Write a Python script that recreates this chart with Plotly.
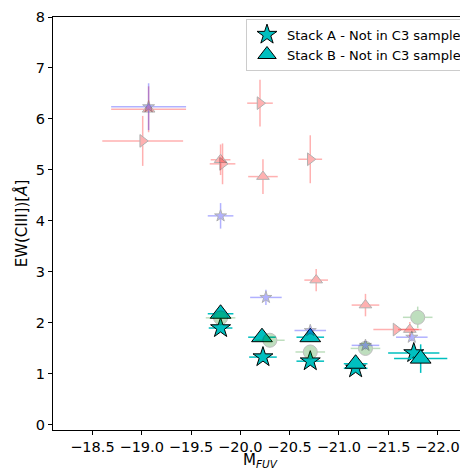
import plotly.graph_objects as go

# Stack A - Not in C3 sample (teal stars)
a_x = [-19.80, -20.23, -20.71, -21.17, -21.76]
a_y = [1.90, 1.33, 1.25, 1.11, 1.41]
a_xerr = [0.12, 0.14, 0.14, 0.12, 0.26]
a_yerr = [0.06, 0.06, 0.06, 0.06, 0.12]

# Stack B - Not in C3 sample (teal triangles)
b_x = [-19.80, -20.22, -20.71, -21.17, -21.83]
b_y = [2.18, 1.72, 1.72, 1.20, 1.30]
b_xerr = [0.13, 0.14, 0.14, 0.12, 0.27]
b_yerr = [0.08, 0.08, 0.08, 0.08, 0.28]

# faint comparison samples
g_x = [-19.80, -20.30, -20.71, -21.27, -21.80]
g_y = [2.10, 1.66, 1.43, 1.50, 2.11]
g_xerr = [0.15, 0.15, 0.15, 0.15, 0.15]
g_yerr = [0.08, 0.08, 0.08, 0.08, 0.21]

s_x = [-19.07, -19.80, -20.26, -20.71, -21.27, -21.74]
s_y = [6.24, 4.10, 2.50, 1.85, 1.56, 1.72]
s_xerr = [0.38, 0.13, 0.16, 0.16, 0.14, 0.16]
s_yerr = [0.46, 0.25, 0.15, 0.08, 0.08, 0.08]

t_x = [-19.07, -19.80, -20.23, -20.77, -21.27, -21.72]
t_y = [6.19, 5.20, 4.87, 2.84, 2.35, 1.87]
t_xerr = [0.38, 0.10, 0.15, 0.12, 0.14, 0.12]
t_yerr = [0.45, 0.30, 0.34, 0.22, 0.22, 0.15]

r_x = [-19.01, -19.82, -20.20, -20.71, -21.58]
r_y = [5.57, 5.12, 6.31, 5.21, 1.87]
r_xerr = [0.41, 0.13, 0.13, 0.12, 0.23]
r_yerr = [0.49, 0.40, 0.46, 0.47, 0.08]

x_ticks = [-18.5, -19.0, -19.5, -20.0, -20.5, -21.0, -21.5, -22.0]
y_ticks = [0, 1, 2, 3, 4, 5, 6, 7, 8]

TEAL = "#00BFBF"
FONT = "DejaVu Sans"

fig = go.Figure()


def err(arr, color, th=1.5):
    return dict(type="data", array=arr, color=color, thickness=th, width=0, visible=True)


fig.add_trace(go.Scatter(
    x=a_x, y=a_y, mode="markers", name="Stack A - Not in C3 sample",
    marker=dict(symbol="star", size=15, color=TEAL, line=dict(color="black", width=1)),
    error_x=err(a_xerr, TEAL), error_y=err(a_yerr, TEAL)))
fig.add_trace(go.Scatter(
    x=b_x, y=b_y, mode="markers", name="Stack B - Not in C3 sample",
    marker=dict(symbol="triangle-up", size=18, color=TEAL, line=dict(color="black", width=1)),
    error_x=err(b_xerr, TEAL), error_y=err(b_yerr, TEAL)))

fig.add_trace(go.Scatter(
    x=g_x, y=g_y, mode="markers", showlegend=False, opacity=0.25,
    marker=dict(symbol="circle", size=14, color="green", line=dict(color="black", width=1)),
    error_x=err(g_xerr, "green"), error_y=err(g_yerr, "green")))
fig.add_trace(go.Scatter(
    x=t_x, y=t_y, mode="markers", showlegend=False, opacity=0.3,
    marker=dict(symbol="triangle-up", size=11, color="red", line=dict(color="black", width=1)),
    error_x=err(t_xerr, "red"), error_y=err(t_yerr, "red")))
fig.add_trace(go.Scatter(
    x=r_x, y=r_y, mode="markers", showlegend=False, opacity=0.3,
    marker=dict(symbol="triangle-right", size=11, color="red", line=dict(color="black", width=1)),
    error_x=err(r_xerr, "red"), error_y=err(r_yerr, "red")))
fig.add_trace(go.Scatter(
    x=s_x, y=s_y, mode="markers", showlegend=False, opacity=0.3,
    marker=dict(symbol="star", size=9, color="blue", line=dict(color="black", width=1)),
    error_x=err(s_xerr, "blue"), error_y=err(s_yerr, "blue")))

axis_common = dict(showline=True, mirror=True, linecolor="black", linewidth=1,
                   ticks="outside", ticklen=4, tickcolor="black", showgrid=False,
                   zeroline=False, automargin=False,
                   tickfont=dict(family=FONT, size=14.5, color="black"))

# page body has an 8px default margin; the figure is sized to fill the rest
fig.update_layout(
    width=460, height=462,
    margin=dict(l=45, r=1, t=9, b=40),
    plot_bgcolor="white", paper_bgcolor="white",
    font=dict(family=FONT, color="black"),
    xaxis=dict(range=[-18.1, -22.3], tickvals=x_ticks,
               ticktext=[f"\u2212{abs(v):.1f}" for v in x_ticks],
               title=dict(text="M<sub><i>FUV</i></sub>", font=dict(family=FONT, size=15), standoff=0),
               **axis_common),
    yaxis=dict(range=[-0.1, 8.0], tickvals=y_ticks,
               title=dict(text="EW(CIII])[<i>Å</i>]", font=dict(family=FONT, size=15), standoff=4),
               **axis_common),
    legend=dict(x=1.0, y=0.996, xanchor="right", yanchor="top",
                bordercolor="#cccccc", borderwidth=1, bgcolor="rgba(255,255,255,0.85)",
                font=dict(family=FONT, size=13), tracegroupgap=0),
)

fig.write_html("out.html")
